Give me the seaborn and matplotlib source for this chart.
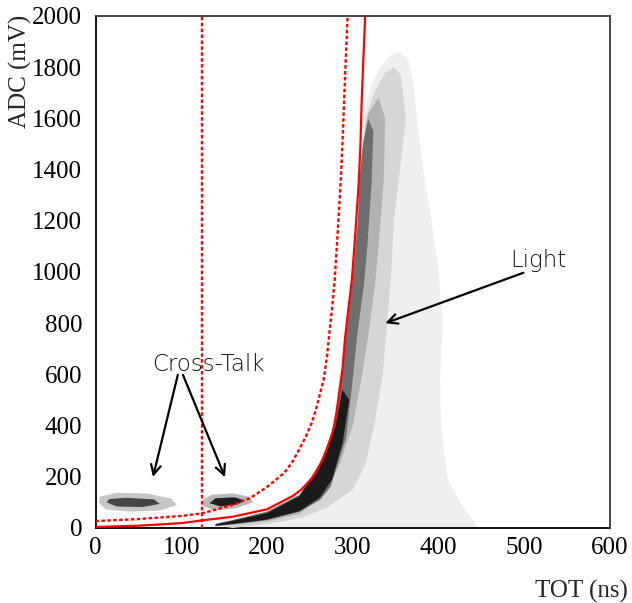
import matplotlib
matplotlib.use("Agg")
import matplotlib.pyplot as plt
import seaborn as sns
import pandas as pd
from matplotlib.ticker import MultipleLocator

# ---------------- data (TOT in ns, ADC in mV) ----------------
# solid red cut curve
solid_tot = [0, 50, 100, 125, 160, 200, 230, 240, 250, 255, 265, 270, 277, 281, 285, 288, 291, 294,
             299, 303, 307, 309, 310.5, 312.5, 314.5]
solid_adc = [4, 9, 19, 30, 44, 73, 125, 150, 185, 205, 268, 310, 380, 450, 550, 620, 740, 830,
             970, 1150, 1350, 1500, 1675, 1840, 2000]
# dotted red cut curve
dotted_tot = [0, 50, 100, 124, 160, 180, 200, 220, 230, 238, 245, 252, 256, 260, 263, 266, 270, 273,
              276, 279, 282, 286, 288, 290, 292, 294]
dotted_adc = [27, 35, 47, 57, 90, 116, 160, 215, 260, 310, 355, 409, 450, 500, 540, 578, 670, 770,
              860, 970, 1130, 1355, 1500, 1675, 1840, 2000]
# vertical dotted cut
vcut_tot = 124

# density regions of the event cloud (boundary vertices)
light_tot = [140, 170, 200, 230, 250, 262, 272, 280, 288, 295, 300, 304, 308, 313, 320, 332, 345, 355,
             365, 370, 375, 382, 392, 400, 405, 402, 403, 410, 425, 440, 445]
light_adc = [0, 20, 40, 80, 130, 200, 300, 400, 600, 800, 1000, 1200, 1400, 1600, 1720, 1800, 1850, 1860,
             1830, 1750, 1600, 1400, 1200, 1000, 800, 600, 400, 200, 100, 30, 0]

mid_tot = [150, 200, 238, 262, 275, 283, 290, 296, 300, 303, 307, 309, 315, 325, 338, 348,
           356, 362, 355, 348, 345, 340, 335, 325, 315, 300, 270, 240, 200, 160]
mid_adc = [5, 35, 70, 125, 200, 300, 450, 600, 800, 1000, 1200, 1400, 1600, 1700, 1780, 1800,
           1770, 1600, 1400, 1200, 1000, 800, 600, 400, 250, 150, 80, 40, 15, 0]

inner_tot = [140, 160, 200, 238, 262, 277, 285, 292, 300, 306, 308, 312, 318, 330,
             338, 336, 330, 326, 318, 310, 300, 285, 270, 255, 238, 200, 160, 140]
inner_adc = [16, 31, 64, 129, 254, 380, 550, 750, 970, 1200, 1360, 1500, 1620, 1680,
             1600, 1350, 1100, 950, 750, 580, 400, 250, 150, 100, 55, 26, 12, 6]

core_tot = [140, 160, 200, 238, 262, 277, 285, 292, 300, 306, 308, 312, 318,
            324, 322, 317, 313, 305, 300, 292, 274, 262, 238, 200, 160, 140]
core_adc = [16, 31, 64, 129, 254, 380, 550, 750, 970, 1200, 1360, 1500, 1600,
            1550, 1350, 1100, 950, 750, 580, 350, 160, 110, 64, 31, 14, 8]

peak_tot = [140, 160, 200, 238, 258, 270, 280, 288, 296, 288, 276, 262, 238, 200, 160, 140]
peak_adc = [14, 28, 58, 125, 225, 300, 400, 540, 500, 330, 190, 120, 66, 33, 16, 9]

xt1_out_tot = [4, 12, 40, 75, 95, 88, 60, 25, 5]
xt1_out_adc = [100, 72, 64, 68, 90, 115, 135, 138, 122]
xt1_core_tot = [13, 25, 55, 75, 68, 35, 16]
xt1_core_adc = [100, 84, 82, 94, 112, 118, 113]

xt2_out_tot = [124, 138, 162, 184, 180, 160, 136, 126]
xt2_out_adc = [90, 68, 76, 100, 122, 135, 130, 112]
xt2_core_tot = [133, 146, 165, 174, 162, 140]
xt2_core_adc = [97, 84, 92, 108, 120, 116]

# annotations
xtalk_label = "Cross-Talk"
xtalk_text_pos = (66, 615)
xtalk_tail = [(96, 598), (102, 598)]
xtalk_heads = [(67, 199), (151, 199)]
light_label = "Light"
light_text_pos = (484, 1020)
light_tail = (499, 997)
light_head = (338, 800)

# ---------------- figure ----------------
sns.set_style("white")
plt.rcParams["font.family"] = ["Liberation Serif", "DejaVu Serif"]

W, H = 632, 603
fig = plt.figure(figsize=(W / 100, H / 100), dpi=100)
ax = fig.add_axes([95.5 / W, (H - 528) / H, 514.5 / W, 512 / H])

ax.fill(light_tot, light_adc, facecolor="#efefef", linewidth=0, zorder=2)
ax.fill(mid_tot, mid_adc, facecolor="#d6d6d6", linewidth=0, zorder=3)
ax.fill(inner_tot, inner_adc, facecolor="#b2b2b2", linewidth=0, zorder=4)
ax.fill(core_tot, core_adc, facecolor="#6e6e6e", linewidth=0, zorder=5)
ax.fill(peak_tot, peak_adc, facecolor="#1a1a1a", linewidth=0, zorder=6)
ax.fill(xt1_out_tot, xt1_out_adc, facecolor="#c6c6c6", linewidth=0, zorder=4)
ax.fill(xt1_core_tot, xt1_core_adc, facecolor="#454545", linewidth=0, zorder=5)
ax.fill(xt2_out_tot, xt2_out_adc, facecolor="#b8b8b8", linewidth=0, zorder=4)
ax.fill(xt2_core_tot, xt2_core_adc, facecolor="#1e1e1e", linewidth=0, zorder=5)

solid_df = pd.DataFrame({"TOT": solid_tot, "ADC": solid_adc})
dotted_df = pd.DataFrame({"TOT": dotted_tot, "ADC": dotted_adc})
sns.lineplot(data=solid_df, x="TOT", y="ADC", ax=ax, color="#ff0000", linewidth=1.6,
             sort=False, estimator=None, zorder=8)
sns.lineplot(data=dotted_df, x="TOT", y="ADC", ax=ax, color="#ff0000", linewidth=1.7,
             sort=False, estimator=None, zorder=8, linestyle=(0, (1.5, 1.0)))
ax.axvline(vcut_tot, color="#ff0000", linewidth=1.7, linestyle=(0, (1.5, 1.0)), zorder=8)

ax.set_xlim(0, 600)
ax.set_ylim(0, 2000)
ax.set_xlabel("")
ax.set_ylabel("")
ax.xaxis.set_major_locator(MultipleLocator(100))
ax.xaxis.set_minor_locator(MultipleLocator(20))
ax.yaxis.set_major_locator(MultipleLocator(200))
ax.yaxis.set_minor_locator(MultipleLocator(50))
ax.tick_params(which="both", direction="in", top=False, right=False, colors="black", width=1.1)
ax.tick_params(which="major", length=6.7, labelsize=18, pad=9.5)
ax.tick_params(which="minor", length=3.4)
ax.tick_params(axis="x", which="major", pad=6.5)
for s in ["left", "bottom"]:
    ax.spines[s].set_color("black")
    ax.spines[s].set_linewidth(1.3)
for s in ["top", "right"]:
    ax.spines[s].set_color("#444444")
    ax.spines[s].set_linewidth(1.4)
    ax.spines[s].set_zorder(10)

fig.text(20 / W, 1 - 15 / H, "ADC (mV)", rotation=90, ha="center", va="top", fontsize=18)
fig.text(628 / W, 1 - 598 / H, "TOT (ns)", ha="right", va="baseline", fontsize=18)

ann_font = dict(family=["DejaVu Sans"], fontsize=16.5, color="#111111", fontweight="light")
ax.text(*xtalk_text_pos, xtalk_label, ha="left", va="baseline", zorder=12, **ann_font)
arrow = dict(arrowstyle="->,head_length=0.7,head_width=0.35", color="black", lw=1.6, shrinkA=0, shrinkB=0)
for tail, head in zip(xtalk_tail, xtalk_heads):
    ax.annotate("", xy=head, xytext=tail, arrowprops=arrow, zorder=12)
ax.text(*light_text_pos, light_label, ha="left", va="baseline", zorder=12, **ann_font)
ax.annotate("", xy=light_head, xytext=light_tail, arrowprops=arrow, zorder=12)

fig.savefig("out.png", dpi=100)
